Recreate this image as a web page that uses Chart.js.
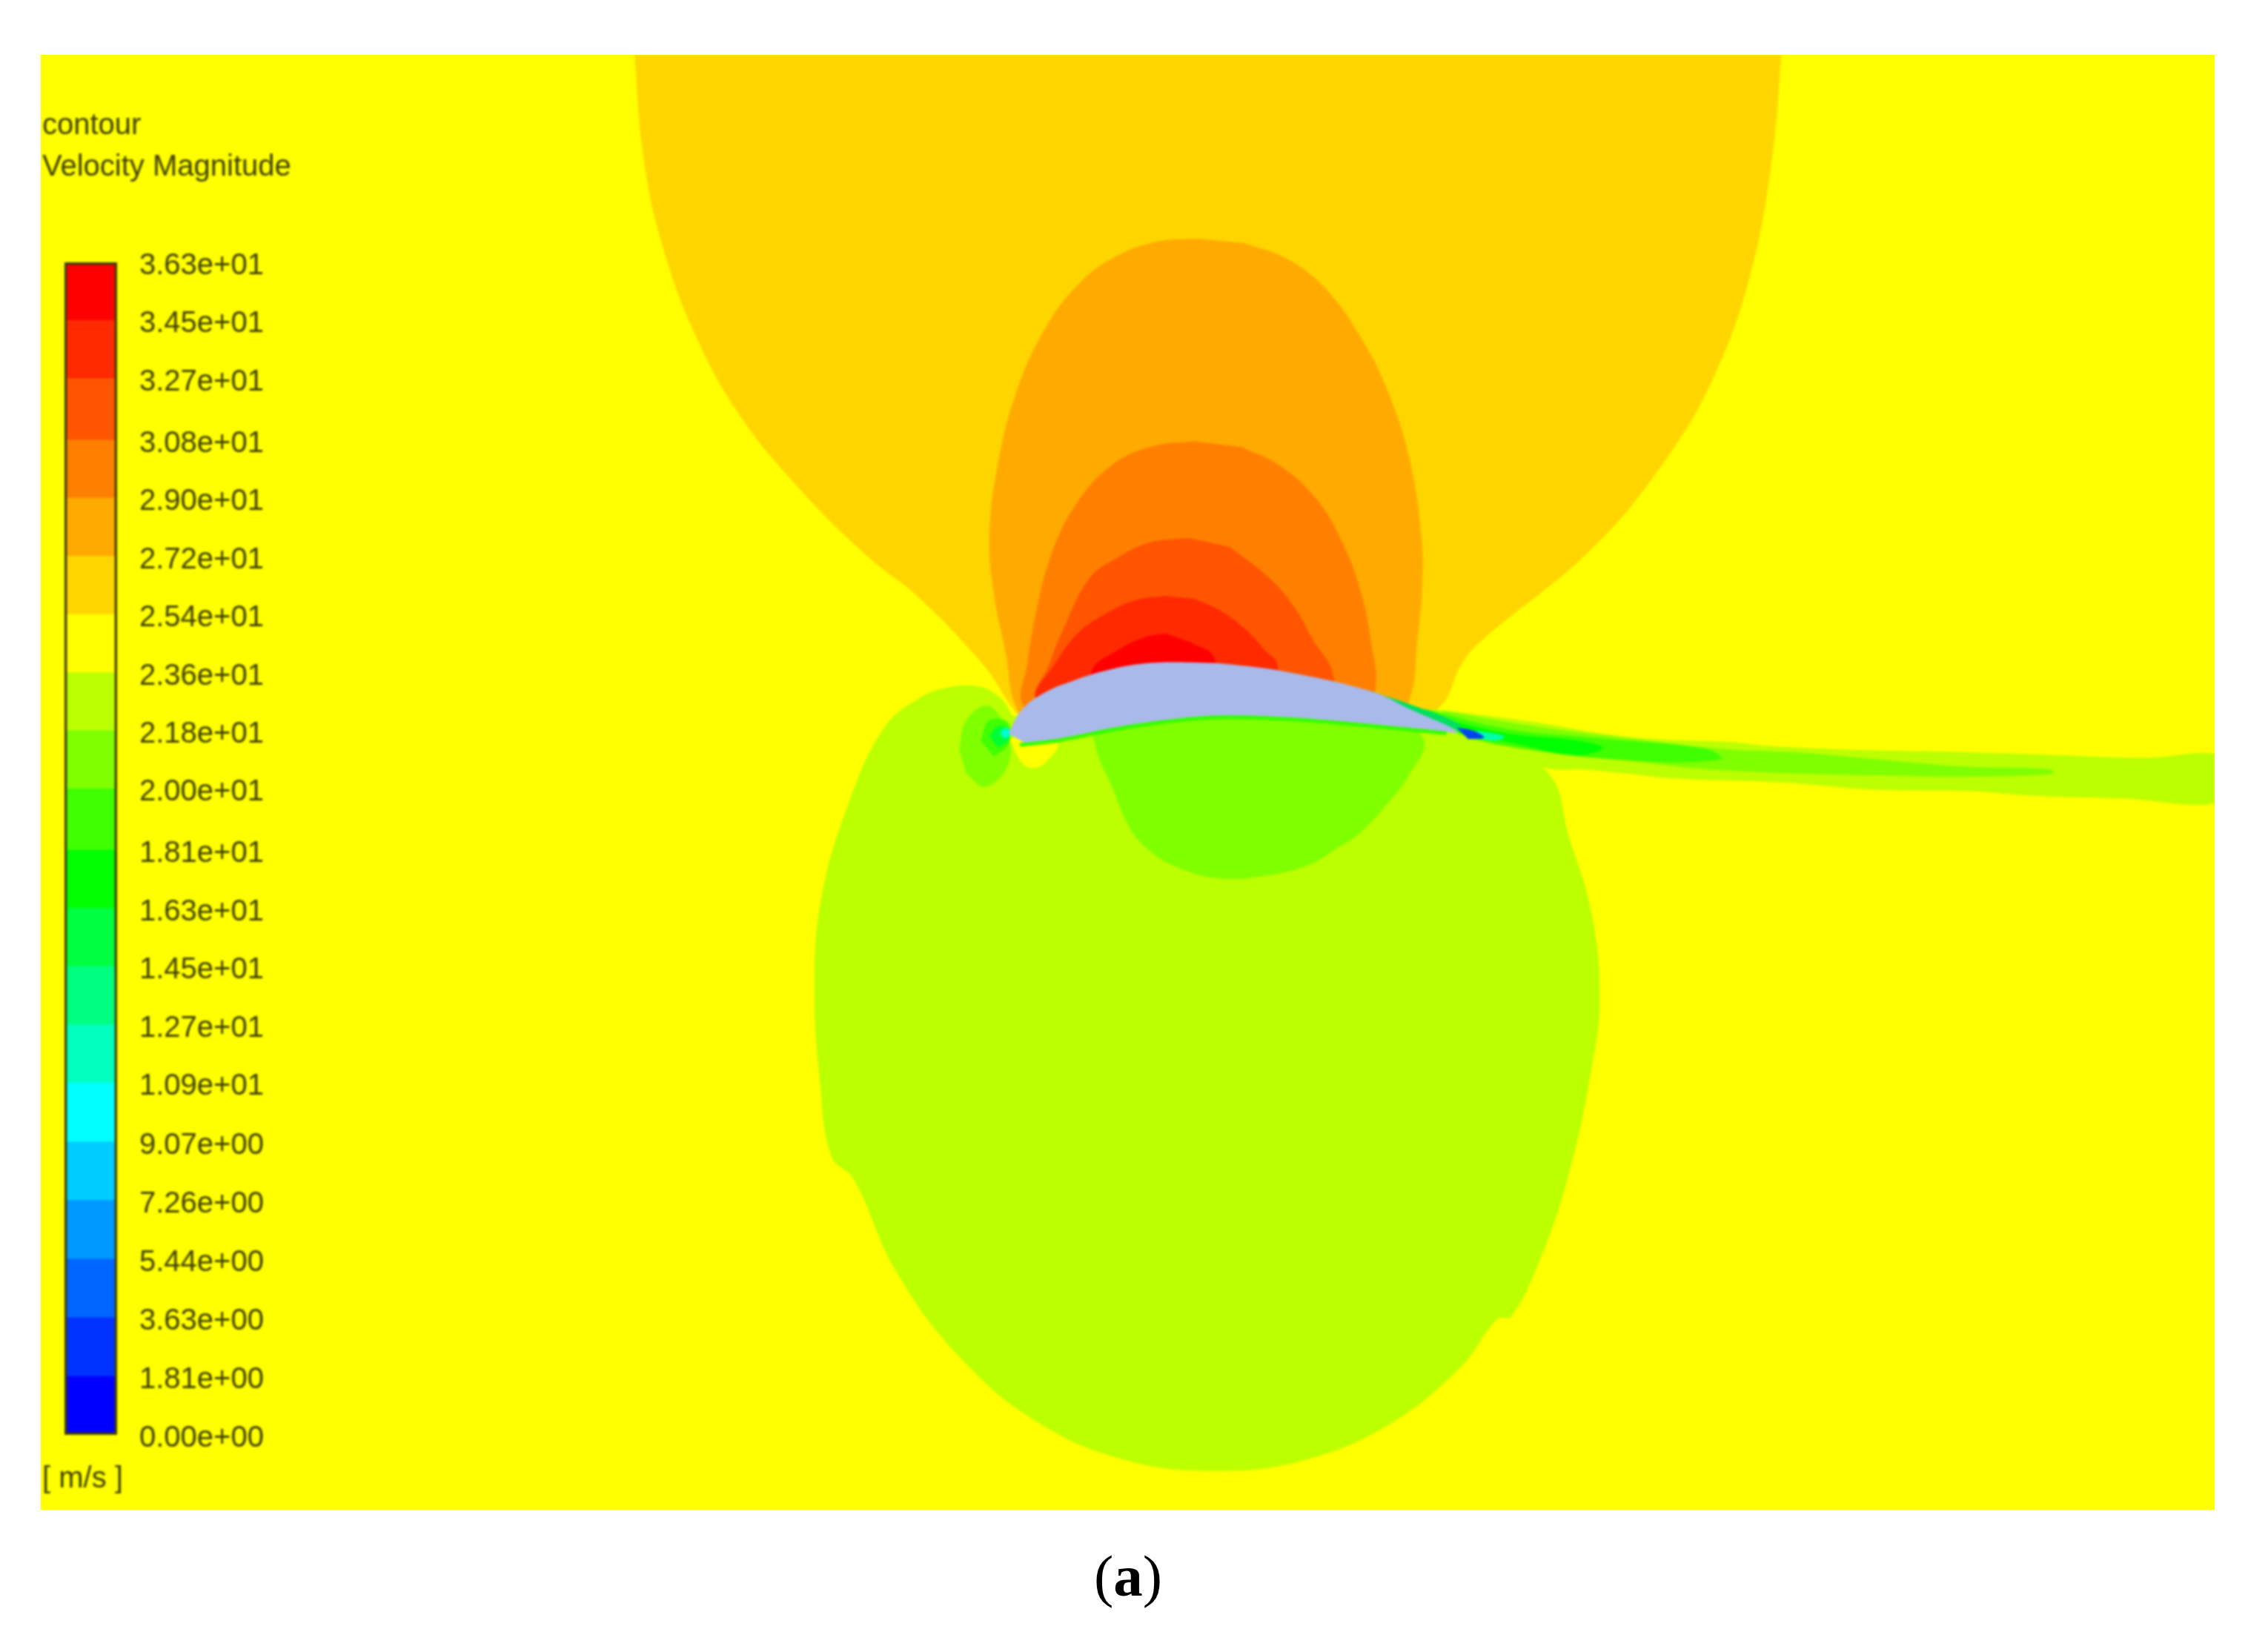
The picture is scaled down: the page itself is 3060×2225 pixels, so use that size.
<!DOCTYPE html>
<html>
<head>
<meta charset="utf-8">
<title>Velocity contour</title>
<script src="https://cdn.jsdelivr.net/npm/chart.js@4"></script>
<style>
    html, body { margin: 0; background: #fff; width: 3060px; height: 2225px; overflow: hidden; }
    #frame { position: absolute; left: 55px; top: 74px; width: 2933px; height: 1963px; background: #ffff00; overflow: hidden; }
    #field { position: absolute; left: 0; top: 0; filter: blur(1.6px); }
    #bar { position: absolute; left: 25px; top: 246px; filter: blur(1.5px); }
    .note { position: absolute; font: 40px "Liberation Sans"; line-height: 40px; color: #3f3f00; white-space: nowrap; filter: blur(1.6px); }
    #caption { position: absolute; left: 1322px; width: 400px; top: 2082px; text-align: center; font: 79px "Liberation Serif"; line-height: 90px; color: #000; }
</style>
</head>
<body>
<div id="frame">
    <canvas id="field" width="2933" height="1963"></canvas>
    <canvas id="bar" width="340" height="1660"></canvas>
    <div class="note" style="left:2px;top:73px">contour</div>
    <div class="note" style="left:2px;top:129px">Velocity Magnitude</div>
    <div class="note" style="left:2px;top:1899px">[ m/s ]</div>
</div>
<div id="caption">(<b>a</b>)</div>
<script>
// colour bar, lowest band first
const levelValues = [0, 1.81, 3.63, 5.44, 7.26, 9.07, 10.9, 12.7, 14.5, 16.3, 18.1, 20.0, 21.8, 23.6, 25.4, 27.2, 29.0, 30.8, 32.7, 34.5, 36.3];
const tickLabels = ["0.00e+00", "1.81e+00", "3.63e+00", "5.44e+00", "7.26e+00", "9.07e+00", "1.09e+01", "1.27e+01", "1.45e+01", "1.63e+01", "1.81e+01", "2.00e+01", "2.18e+01", "2.36e+01", "2.54e+01", "2.72e+01", "2.90e+01", "3.08e+01", "3.27e+01", "3.45e+01", "3.63e+01"];
const bandColors = ["#0000ff", "#0033ff", "#0066ff", "#0099ff", "#00ccff", "#00ffff", "#00ffbf", "#00ff80", "#00ff40", "#00ff00", "#40ff00", "#80ff00", "#bbff00", "#ffff00", "#ffd500", "#ffaa00", "#ff8000", "#ff5500", "#ff2a00", "#ff0000"];

// contour outlines
const dome2554 = [[438, 30], [445, 110], [458, 170], [480, 230], [510, 285], [550, 335], [600, 385], [635, 413], [680, 460], [702, 492], [720, 510], [960, 510], [996, 488], [1010, 460], [1023, 444], [1100, 380], [1150, 320], [1185, 260], [1210, 190], [1225, 110], [1232, 30]];
const dome2726 = [[828, 165], [800, 167], [770, 178], [745, 197], [722, 228], [703, 270], [690, 320], [684, 370], [687, 410], [695, 450], [703, 490], [720, 505], [960, 505], [975, 482], [980, 441], [983, 410], [983, 375], [975, 320], [960, 272], [940, 232], [915, 198], [888, 178], [860, 168]];
const dome2908 = [[825, 305], [795, 309], [768, 322], [745, 347], [728, 380], [717, 420], [710, 460], [707, 487], [730, 500], [940, 500], [951, 475], [948, 445], [941, 410], [928, 375], [910, 345], [885, 322], [858, 309]];
const dome3082 = [[822, 372], [795, 375], [772, 386], [753, 400], [735, 435], [725, 460], [716, 483], [740, 495], [915, 495], [922, 468], [907, 441], [895, 420], [878, 400], [850, 378]];
const dome3272 = [[806, 412], [785, 415], [765, 424], [746, 437], [730, 458], [716, 483], [740, 490], [880, 490], [883, 459], [875, 450], [862, 436], [845, 423], [826, 414]];
const dome3454 = [[806, 438], [790, 441], [772, 450], [755, 463], [760, 480], [840, 480], [839, 454], [823, 444]];
const lowerLobe = [[700, 495], [692, 483], [678, 475], [657, 475], [635, 483], [610, 505], [585, 560], [568, 620], [563, 680], [567, 750], [575, 800], [590, 815], [620, 880], [665, 940], [720, 985], [780, 1010], [840, 1017], [900, 1010], [960, 985], [1010, 945], [1035, 912], [1045, 910], [1065, 870], [1085, 810], [1100, 740], [1106, 690], [1100, 630], [1085, 580], [1069, 533], [1010, 505], [900, 485], [800, 480], [720, 495]];
const lowerBowl = [[755, 507], [760, 525], [767, 540], [782, 574], [797, 590], [815, 600], [840, 607], [871, 606], [905, 598], [925, 586], [939, 577], [958, 557], [974, 536], [984, 511], [950, 485], [800, 485]];
const noseOuter = [[663, 518], [668, 498], [683, 488], [696, 506], [697, 529], [681, 544], [668, 535]];
const noseMiddle = [[678, 512], [684, 498], [697, 500], [697, 515], [687, 523]];
const noseInner = [[684, 509], [690, 502], [698, 505], [697, 512], [690, 517]];
const noseCore = [[691, 507], [695, 503], [699, 507], [695, 511]];
const noseBlob = [[698, 511], [707, 528], [716, 531], [726, 524], [731, 514], [715, 505]];
const airfoil = [[697, 507], [707, 490], [724, 478], [741, 471], [763, 464], [789, 459], [823, 458], [857, 460], [892, 465], [948, 478], [974, 490], [1008, 506], [991, 505], [939, 500], [888, 496], [840, 495], [806, 498], [772, 503], [731, 511], [709, 514]];
const wakeOuter = [[990, 490], [1059, 499], [1107, 507], [1145, 511], [1195, 513], [1227, 516], [1270, 518], [1308, 519], [1355, 520], [1418, 522], [1481, 524], [1540, 524], [1540, 553], [1465, 552], [1402, 550], [1364, 547], [1296, 546], [1233, 541], [1154, 538], [1126, 535], [1095, 532], [1069, 531], [1010, 510]];
const wakeMiddle = [[996, 491], [1060, 502], [1139, 512], [1195, 518], [1239, 520], [1308, 526], [1358, 530], [1418, 532], [1419, 535], [1358, 537], [1296, 536], [1223, 534], [1170, 531], [1127, 526], [1042, 516], [1016, 511]];
const wakeInner = [[985, 490], [1042, 504], [1100, 510], [1180, 518], [1190, 525], [1130, 526], [1042, 516], [1000, 505]];
const wakeCore = [[990, 495], [1042, 507], [1090, 512], [1108, 517], [1090, 522], [1042, 513], [1010, 507]];
const tailTeal = [[1020, 505], [1040, 509], [1035, 512], [1024, 511]];
const tailBlue = [[1007, 503], [1018, 505], [1026, 510], [1015, 511]];
const upperEdge = [[945, 477], [975, 487], [1008, 500], [1010, 505], [974, 491], [948, 480]];
const lowerEdge = [[705, 515], [731, 512], [772, 504], [806, 499], [840, 496], [888, 497], [939, 501], [1000, 507]];

// top of the stack first: Chart.js paints the first dataset last
const contours = [
    { points: tailBlue, color: "#0044ee" },
    { points: tailTeal, color: "#00ffaa" },
    { points: airfoil, color: "#a9b9e9" },
    { points: upperEdge, color: "#00e060" },
    { points: noseCore, color: "#00ffcc" },
    { points: noseInner, color: "#00ff33" },
    { points: noseMiddle, color: bandColors[10] },
    { points: noseOuter, color: bandColors[11] },
    { points: noseBlob, color: bandColors[13] },
    { points: wakeCore, color: bandColors[9] },
    { points: wakeInner, color: bandColors[10] },
    { points: wakeMiddle, color: bandColors[11] },
    { points: wakeOuter, color: bandColors[12] },
    { points: lowerBowl, color: bandColors[11] },
    { points: lowerLobe, color: bandColors[12] },
    { points: dome3454, color: bandColors[19] },
    { points: dome3272, color: bandColors[18] },
    { points: dome3082, color: bandColors[17] },
    { points: dome2908, color: bandColors[16] },
    { points: dome2726, color: bandColors[15] },
    { points: dome2554, color: bandColors[14] },
];

const toXY = (list) => list.map(p => ({ x: p[0], y: p[1] }));

new Chart(document.getElementById("field"), {
    type: "scatter",
    data: {
        datasets: [
            {
                data: toXY(lowerEdge),
                showLine: true,
                fill: false,
                borderColor: "#33ff00",
                borderWidth: 5,
                pointRadius: 0,
                tension: 0.4,
            },
            ...contours.map(c => ({
                data: toXY(c.points),
                showLine: true,
                fill: "shape",
                backgroundColor: c.color,
                borderWidth: 0,
                pointRadius: 0,
                tension: 0.4,
            })),
        ],
    },
    options: {
        responsive: false,
        animation: false,
        layout: { padding: 0 },
        plugins: { legend: { display: false }, tooltip: { enabled: false } },
        scales: {
            x: { type: "linear", display: false, min: 28.2, max: 1531 },
            y: { type: "linear", display: false, reverse: true, min: 37.9, max: 1043.8 },
        },
    },
});

// colour bar with its own value axis
const bands = [];
for (let i = 0; i < levelValues.length - 1; i++) {
    bands.push({
        data: [[levelValues[i], levelValues[i + 1]]],
        backgroundColor: bandColors[i],
        borderWidth: 0,
        categoryPercentage: 1,
        barPercentage: 1,
        grouped: false,
    });
}
bands.unshift({
    data: [[levelValues[0], levelValues[levelValues.length - 1]]],
    backgroundColor: "rgba(0,0,0,0)",
    borderColor: "#3d3d00",
    borderWidth: 3,
    borderSkipped: false,
    categoryPercentage: 1,
    barPercentage: 1,
    grouped: false,
});

new Chart(document.getElementById("bar"), {
    type: "bar",
    data: { labels: ["v"], datasets: bands },
    options: {
        responsive: false,
        animation: false,
        layout: { padding: { top: 34, bottom: 44, left: 7 } },
        plugins: { legend: { display: false }, tooltip: { enabled: false } },
        scales: {
            x: { display: false },
            y: {
                type: "linear",
                position: "right",
                min: 0,
                max: 36.3,
                afterFit: (scale) => {
                    scale.width = 262;
                    scale.paddingTop = 0;
                    scale.paddingBottom = 0;
                },
                afterBuildTicks: (scale) => { scale.ticks = levelValues.map(v => ({ value: v })); },
                grid: { display: false },
                border: { display: false },
                ticks: {
                    autoSkip: false,
                    maxRotation: 0,
                    padding: 22,
                    labelOffset: 5,
                    color: "#3f3f00",
                    font: { family: "Liberation Sans", size: 40 },
                    callback: (value, index) => tickLabels[index],
                },
            },
        },
    },
});
</script>
</body>
</html>
